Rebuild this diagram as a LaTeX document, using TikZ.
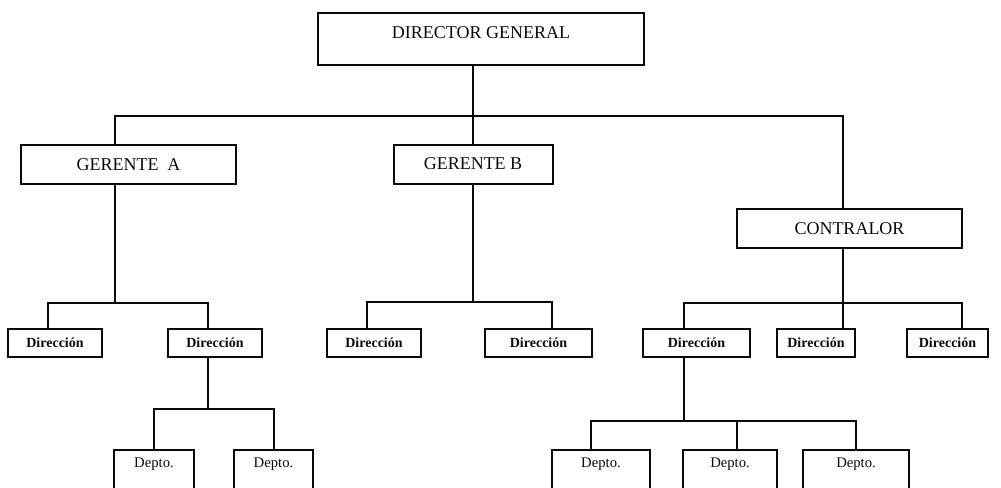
\documentclass[tikz,border=0pt]{standalone}
\usepackage{fontspec}
\setmainfont{Liberation Serif}
\usepackage{tikz}
\definecolor{org_line}{RGB}{10, 10, 10}

\tikzset{
  box/.style={draw=org_line, line width=1.5pt, inner xsep=0pt, font=\fontsize{13.5}{16}\selectfont},
  dirbox/.style={draw=org_line, line width=1.5pt, inner sep=0pt, minimum height=21pt, font=\bfseries\fontsize{10.5}{12}\selectfont},
  deptobox/.style={draw=org_line, line width=1.5pt, anchor=north, inner xsep=0pt, inner ysep=5.25pt,
    text height=7.5pt, text depth=18pt, font=\fontsize{11}{13}\selectfont}
}

\begin{document}
\begin{tikzpicture}[x=0.75pt, y=-0.75pt, line width=1.5pt, org_line]
\useasboundingbox (0,0) rectangle (1001,487);

\node[box, anchor=north, minimum width=244.5pt, inner ysep=9.75pt, text height=9pt, text depth=10.5pt]
  (dg) at (481,12) {DIRECTOR GENERAL};
\node[box, minimum width=161.25pt, minimum height=29.25pt] (ga) at (128.5,164.5) {GERENTE\ \ A};
\node[box, minimum width=119.25pt, minimum height=29.25pt] (gb) at (473,164) {GERENTE B};
\node[box, minimum width=168.75pt, minimum height=29.25pt] (ctr) at (849.5,228.5) {CONTRALOR};

\foreach \n/\x/\w in {da1/55/94, da2/215/94, db1/374/94, db2/538.5/107, dc1/696.5/107, dc2/816/78, dc3/947.5/81}
  \node[dirbox, minimum width=\w*0.75pt] (\n) at (\x,343) {Dirección};

\foreach \n/\x/\w in {pa1/154/80, pa2/273.5/79, pc1/601/98, pc2/730/94, pc3/856/106}
  \node[deptobox, minimum width=\w*0.75pt] (\n) at (\x,449) {Depto.};

% director general
\coordinate (b1) at (473,116);
\draw (gb.north |- dg.south) -- (gb.north);
\draw ([xshift=-10.1pt]ga.north) |- (b1) -| ([xshift=-4.9pt]ctr.north);

% gerente A
\coordinate (ba) at (115,303);
\draw (ga.south -| ba) -- (ba);
\draw ([xshift=-5.25pt]da1.north) |- (ba) -| ([xshift=-5.25pt]da2.north);
\coordinate (bd) at (208,409);
\draw (da2.south -| bd) -- (bd);
\draw (pa1.north) |- (bd) -| (pa2.north);

% gerente B
\coordinate (bb) at (473,302);
\draw (gb.south -| bb) -- (bb);
\draw ([xshift=-5.25pt]db1.north) |- (bb) -| ([xshift=10.1pt]db2.north);

% contralor
\coordinate (bc) at (843,303);
\draw (ctr.south -| bc) -- (dc2.north -| bc);
\draw ([xshift=-9.4pt]dc1.north) |- (bc) -| ([xshift=10.9pt]dc3.north);
\coordinate (bp) at (684,421);
\draw (dc1.south -| bp) -- (bp);
\draw ([xshift=-7.5pt]pc1.north) |- (bp) -| (pc3.north);
\draw ([xshift=5.25pt]pc2.north) -- ([xshift=5.25pt]pc2.north |- bp);

\end{tikzpicture}
\end{document}
